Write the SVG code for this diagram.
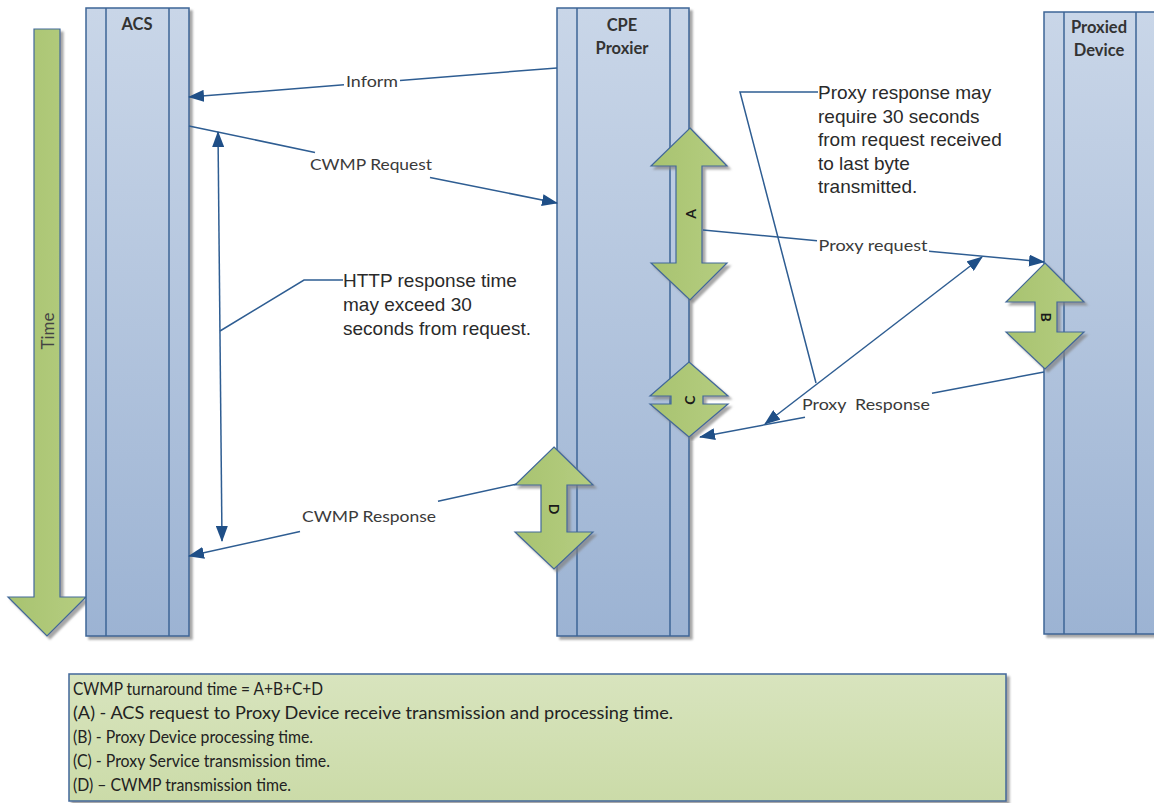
<svg xmlns="http://www.w3.org/2000/svg" width="1154" height="803" viewBox="0 0 1154 803">
<defs>
  <linearGradient id="lifeGrad" x1="0" y1="0" x2="0" y2="1">
    <stop offset="0" stop-color="#c9d6e8"/>
    <stop offset="1" stop-color="#9cb3d3"/>
  </linearGradient>
  <linearGradient id="greenGrad" x1="0" y1="0" x2="1" y2="0">
    <stop offset="0" stop-color="#a8c370"/>
    <stop offset="1" stop-color="#b5cd80"/>
  </linearGradient>
  <linearGradient id="legendGrad" x1="0" y1="0" x2="0" y2="1">
    <stop offset="0" stop-color="#d8e4be"/>
    <stop offset="1" stop-color="#cbdba8"/>
  </linearGradient>
  <filter id="shadow" x="-20%" y="-5%" width="140%" height="110%">
    <feDropShadow dx="3" dy="3" stdDeviation="1.2" flood-color="#808080" flood-opacity="0.7"/>
  </filter>
  <marker id="arr" viewBox="0 0 16 12" refX="15" refY="6" markerWidth="16" markerHeight="12" markerUnits="userSpaceOnUse" orient="auto-start-reverse">
    <path d="M0,0 L16,6 L0,12 Z" fill="#1f4f87"/>
  </marker>
  <style>
    .life { fill: url(#lifeGrad); stroke: #3d6596; stroke-width: 1.5; }
    .inner { stroke: #3d6596; stroke-width: 1.5; }
    .green { fill: url(#greenGrad); stroke: #41689a; stroke-width: 1.2; }
    .title { font-family: Lato, "Open Sans", "Liberation Sans", sans-serif; font-weight: bold; font-size: 16.5px; fill: #333333; text-anchor: middle; }
    .conn { stroke: #2e5d92; stroke-width: 1.5; fill: none; }
    .lbl { font-family: Lato, "Open Sans", "Liberation Sans", sans-serif; font-size: 16px; fill: #3a3a3a; text-anchor: middle; }
    .call { font-family: "Liberation Sans", Arial, sans-serif; font-size: 19px; fill: #2a2a2a; }
    .letter { font-family: Lato, "Liberation Sans", sans-serif; font-weight: bold; font-size: 14px; fill: #1a1a1a; text-anchor: middle; }
    .leg { font-family: Lato, "Open Sans", "Liberation Sans", sans-serif; font-size: 16.5px; fill: #222222; }
  </style>
</defs>
<rect width="1154" height="803" fill="#ffffff"/>

<g id="time-arrow">
  <polygon class="green" filter="url(#shadow)" points="34,29 60,29 60,597 86,597 47,636 8,597 34,597"/>
  <text transform="translate(47,331) rotate(-90)" font-family="Lato, 'Open Sans', 'Liberation Sans', sans-serif" font-size="17" fill="#444" text-anchor="middle" dominant-baseline="central">Time</text>
</g>

<g id="acs">
  <rect class="life" filter="url(#shadow)" x="86" y="8" width="103" height="628"/>
  <line class="inner" x1="106" y1="8" x2="106" y2="636"/>
  <line class="inner" x1="169" y1="8" x2="169" y2="636"/>
  <text class="title" x="137" y="30">ACS</text>
</g>

<g id="cpe-proxier">
  <rect class="life" filter="url(#shadow)" x="557" y="8" width="132" height="628"/>
  <line class="inner" x1="577" y1="8" x2="577" y2="636"/>
  <line class="inner" x1="670" y1="8" x2="670" y2="636"/>
  <text class="title" x="622" y="31">CPE</text>
  <text class="title" x="622" y="54">Proxier</text>
</g>

<g id="proxied-device">
  <rect class="life" filter="url(#shadow)" x="1044" y="12" width="114" height="622"/>
  <line class="inner" x1="1064" y1="12" x2="1064" y2="634"/>
  <line class="inner" x1="1136" y1="12" x2="1136" y2="634"/>
  <text class="title" x="1099" y="33">Proxied</text>
  <text class="title" x="1099" y="56">Device</text>
</g>

<g id="arrow-a">
  <polygon class="green" filter="url(#shadow)" points="690,128 727,166 702,166 702,263 727,263 690,300 651,263 676,263 676,166 651,166"/>
  <text class="letter" transform="translate(690,214) rotate(-90)" dominant-baseline="central">A</text>
</g>
<g id="arrow-b">
  <polygon class="green" filter="url(#shadow)" points="1045,263 1084,302 1057,302 1057,332 1084,332 1045,369 1006,332 1035,332 1035,302 1006,302"/>
  <text class="letter" transform="translate(1046,317) rotate(90)" dominant-baseline="central">B</text>
</g>
<g id="arrow-c">
  <polygon class="green" filter="url(#shadow)" points="689,362 728,396 703,396 703,404 728,404 689,437 650,404 671,404 671,396 650,396"/>
  <text class="letter" transform="translate(689,400) rotate(-90)" dominant-baseline="central">C</text>
</g>
<g id="arrow-d">
  <polygon class="green" filter="url(#shadow)" points="554,447 593,485 567,485 567,532 593,532 554,569 515,532 541,532 541,485 515,485"/>
  <text class="letter" transform="translate(554,509) rotate(90)" dominant-baseline="central">D</text>
</g>

<g id="connectors">
  <line class="conn" x1="557" y1="68" x2="400" y2="80.4"/>
  <line class="conn" x1="344" y1="84.8" x2="189" y2="97" marker-end="url(#arr)"/>
  <text class="lbl" x="372" y="87" textLength="52" lengthAdjust="spacingAndGlyphs">Inform</text>

  <line class="conn" x1="189" y1="126" x2="315" y2="152.4"/>
  <line class="conn" x1="430" y1="177.4" x2="557" y2="203" marker-end="url(#arr)"/>
  <text class="lbl" x="371" y="170" textLength="122" lengthAdjust="spacingAndGlyphs">CWMP Request</text>

  <line class="conn" x1="218" y1="132" x2="222" y2="541" marker-start="url(#arr)" marker-end="url(#arr)"/>

  <line class="conn" x1="703" y1="230" x2="817" y2="240.7"/>
  <line class="conn" x1="929" y1="251.2" x2="1044" y2="262" marker-end="url(#arr)"/>
  <text class="lbl" x="873" y="251" textLength="109" lengthAdjust="spacingAndGlyphs">Proxy request</text>

  <line class="conn" x1="1044" y1="372" x2="932" y2="393.2"/>
  <line class="conn" x1="805" y1="417.2" x2="700" y2="437" marker-end="url(#arr)"/>
  <text class="lbl" x="866" y="410" xml:space="preserve" textLength="128" lengthAdjust="spacingAndGlyphs">Proxy  Response</text>

  <line class="conn" x1="765" y1="424" x2="982" y2="257" marker-start="url(#arr)" marker-end="url(#arr)"/>

  <line class="conn" x1="517" y1="484" x2="438" y2="501.3"/>
  <line class="conn" x1="300" y1="531.6" x2="189" y2="556" marker-end="url(#arr)"/>
  <text class="lbl" x="369" y="522" textLength="134" lengthAdjust="spacingAndGlyphs">CWMP Response</text>

  <polyline class="conn" points="220,331 304,280 343,280"/>
  <polyline class="conn" points="818,92 740,92 816,383"/>
</g>

<g id="note-http">
  <text class="call" x="343" y="287">HTTP response time</text>
  <text class="call" x="343" y="311">may exceed 30</text>
  <text class="call" x="343" y="335">seconds from request.</text>
</g>

<g id="note-proxy">
  <text class="call" x="818" y="99">Proxy response may</text>
  <text class="call" x="818" y="122.5">require 30 seconds</text>
  <text class="call" x="818" y="146">from request received</text>
  <text class="call" x="818" y="169.5">to last byte</text>
  <text class="call" x="818" y="193">transmitted.</text>
</g>

<g id="legend">
  <rect x="69" y="674" width="937" height="127" fill="url(#legendGrad)" stroke="#41689a" stroke-width="1.5" filter="url(#shadow)"/>
  <text class="leg" x="73" y="695" textLength="250" lengthAdjust="spacingAndGlyphs">CWMP turnaround time = A+B+C+D</text>
  <text class="leg" x="73" y="719" textLength="600" lengthAdjust="spacingAndGlyphs">(A) - ACS request to Proxy Device receive transmission and processing time.</text>
  <text class="leg" x="73" y="743" textLength="240" lengthAdjust="spacingAndGlyphs">(B) - Proxy Device processing time.</text>
  <text class="leg" x="73" y="767" textLength="257" lengthAdjust="spacingAndGlyphs">(C) - Proxy Service transmission time.</text>
  <text class="leg" x="73" y="791" textLength="218" lengthAdjust="spacingAndGlyphs">(D) – CWMP transmission time.</text>
</g>
</svg>
